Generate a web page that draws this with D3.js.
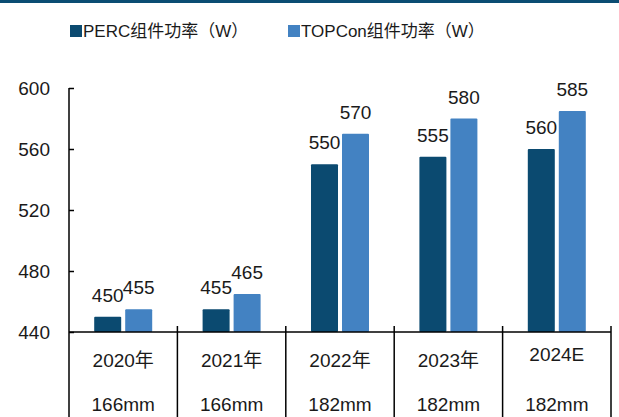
<!DOCTYPE html>
<html>
<head>
<meta charset="utf-8">
<script src="https://cdn.jsdelivr.net/npm/d3@7"></script>
<style>
  html, body { margin: 0; padding: 0; background: #fff; }
  svg { display: block; font-family: "Liberation Sans", Arial, "Noto Sans CJK SC", sans-serif; }
</style>
</head>
<body>
<svg id="chart" width="619" height="417"></svg>
<script>
// Module power by year (W)
const years = ["2020年", "2021年", "2022年", "2023年", "2024E"];
const waferSizes = ["166mm", "166mm", "182mm", "182mm", "182mm"];
const seriesNames = ["PERC组件功率（W）", "TOPCon组件功率（W）"];
const percPower = [450, 455, 550, 555, 560];
const topconPower = [455, 465, 570, 580, 585];
const yTicks = [440, 480, 520, 560, 600];

const colors = ["#0b4a70", "#4382c2"];
const textColor = "#1a1a1a";

const svg = d3.select("#chart");
const margin = { left: 69, right: 611, top: 88, bottom: 332 };

// Top rule
svg.append("rect").attr("x", 0).attr("y", 0).attr("width", 619).attr("height", 3).attr("fill", "#0b4d73");

const x0 = d3.scaleBand().domain(years).range([margin.left, margin.right]).paddingInner(0);
const x1 = d3.scaleBand().domain([0, 1])
  .range([x0.bandwidth() / 2 - 29, x0.bandwidth() / 2 + 29])
  .paddingInner(4 / 31);
const y = d3.scaleLinear().domain([440, 600]).range([margin.bottom, margin.top]);

const series = [percPower, topconPower];

// Bars
const groups = svg.append("g").selectAll("g")
  .data(years)
  .join("g")
  .attr("transform", d => `translate(${x0(d)},0)`);

groups.selectAll("rect")
  .data((d, i) => series.map((s, k) => ({ k, v: s[i] })))
  .join("rect")
  .attr("x", d => x1(d.k))
  .attr("width", x1.bandwidth())
  .attr("y", d => y(d.v))
  .attr("height", d => y(440) - y(d.v))
  .attr("rx", 1)
  .attr("fill", d => colors[d.k]);

// Value labels
groups.selectAll("text.val")
  .data((d, i) => series.map((s, k) => ({ k, v: s[i] })))
  .join("text")
  .attr("class", "val")
  .attr("x", d => x1(d.k) + x1.bandwidth() / 2)
  .attr("y", d => y(d.v) - 15)
  .attr("text-anchor", "middle")
  .attr("font-size", 19)
  .attr("fill", textColor)
  .text(d => d.v);

// Y axis
const yAxis = d3.axisLeft(y).tickValues(yTicks).tickSize(-5).tickPadding(19).tickFormat(d3.format("d"));
const yg = svg.append("g").attr("transform", `translate(${margin.left},0)`).call(yAxis);
yg.select(".domain").remove();
yg.selectAll(".tick line").attr("stroke", "#000").attr("stroke-width", 1.5);
yg.selectAll(".tick text").attr("font-size", 19).attr("fill", textColor).attr("font-family", "Liberation Sans, Arial, sans-serif");
svg.append("line")
  .attr("x1", margin.left).attr("x2", margin.left)
  .attr("y1", y(600)).attr("y2", 417)
  .attr("stroke", "#000").attr("stroke-width", 1.5);

// X axis baseline
svg.append("line")
  .attr("x1", margin.left).attr("x2", margin.right)
  .attr("y1", y(440)).attr("y2", y(440))
  .attr("stroke", "#000").attr("stroke-width", 1.5);

// Category separators
const bounds = years.slice(1).map(d => x0(d)).concat([margin.right]);
svg.append("g").selectAll("line")
  .data(bounds)
  .join("line")
  .attr("x1", d => d).attr("x2", d => d)
  .attr("y1", y(440) - 6).attr("y2", 417)
  .attr("stroke", "#000").attr("stroke-width", 1.5);

// Category labels (two rows)
const cats = svg.append("g").selectAll("g")
  .data(years)
  .join("g")
  .attr("transform", d => `translate(${x0(d) + x0.bandwidth() / 2},0)`);
cats.append("text")
  .attr("y", (d, i) => i === 4 ? 361 : 367)
  .attr("text-anchor", "middle")
  .attr("font-size", 19)
  .attr("fill", textColor)
  .text(d => d);
cats.append("text")
  .attr("y", 411)
  .attr("text-anchor", "middle")
  .attr("font-size", 19)
  .attr("fill", textColor)
  .text((d, i) => waferSizes[i]);

// Legend
const legendX = [70, 288];
const legend = svg.append("g").selectAll("g")
  .data(seriesNames)
  .join("g")
  .attr("transform", (d, i) => `translate(${legendX[i]},25)`);
legend.append("rect").attr("width", 12).attr("height", 12).attr("fill", (d, i) => colors[i]);
legend.append("text")
  .attr("x", 13).attr("y", 12)
  .attr("font-size", 17)
  .attr("fill", textColor)
  .text(d => d);
</script>
</body>
</html>
